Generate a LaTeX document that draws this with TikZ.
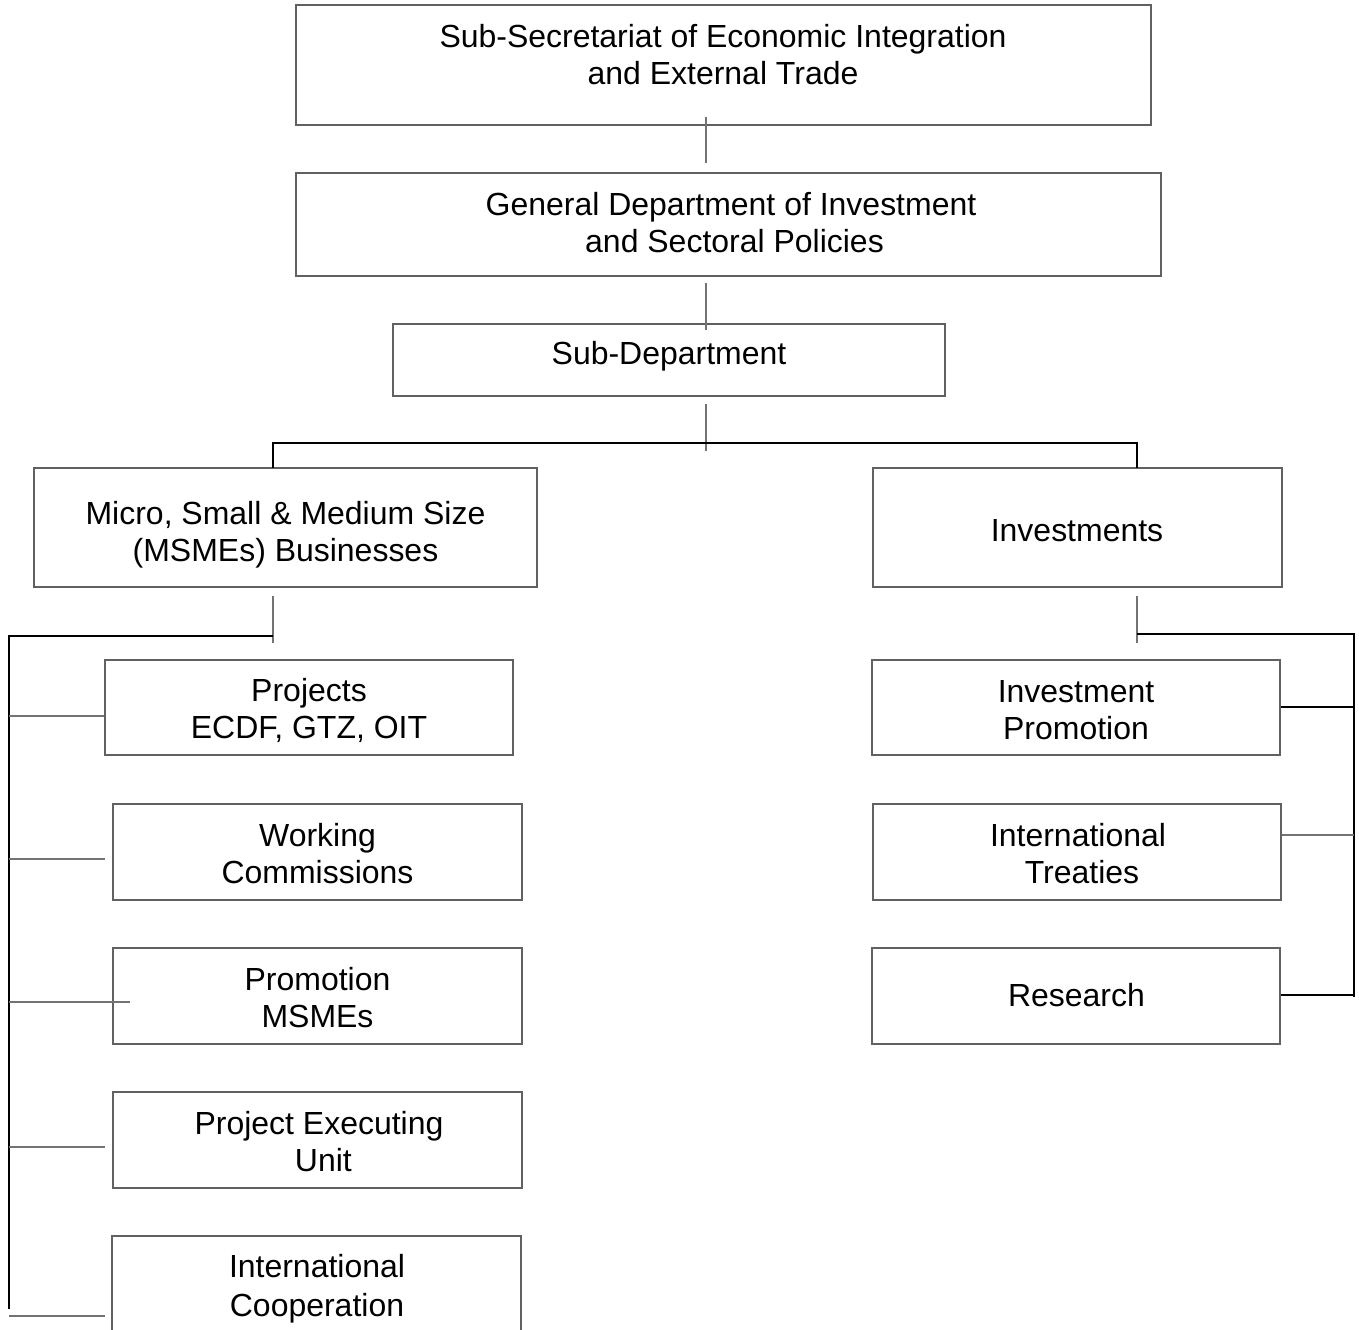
\documentclass[tikz,border=0pt]{standalone}
\usepackage{fontspec}
\setmainfont{Liberation Sans}
\usetikzlibrary{fit}
\definecolor{boxgray}{gray}{0.38}
\definecolor{linegray}{gray}{0.45}
\begin{document}
\begin{tikzpicture}[x=0.02cm,y=-0.02cm,
  box/.style={draw=boxgray, line width=0.6pt, inner sep=0pt},
  txt/.style={align=center, font=\fontsize{18.2}{21}\selectfont, inner sep=0pt},
  thinlink/.style={draw=linegray, line width=0.9pt},
  thicklink/.style={draw=black, line width=1.2pt}]
\useasboundingbox (0,0) rectangle (1359,1329);
\clip (0,0) rectangle (1359,1329);

% --- boxes ---
\node[box, fit={(296,5) (1151,125)}] (sec) {};
\node[box, fit={(296,173) (1161,276)}] (gen) {};
\node[box, fit={(393,324) (945,396)}] (sub) {};
\node[box, fit={(34,468) (537,587)}] (msme) {};
\node[box, fit={(873,468) (1282,587)}] (inv) {};
\node[box, fit={(105,660) (513,755)}] (proj) {};
\node[box, fit={(113,804) (522,900)}] (work) {};
\node[box, fit={(113,948) (522,1044)}] (prom) {};
\node[box, fit={(113,1092) (522,1188)}] (peu) {};
\node[box, fit={(112,1236) (521,1345)}] (coop) {};
\node[box, fit={(872,660) (1280,755)}] (ipro) {};
\node[box, fit={(873,804) (1281,900)}] (treat) {};
\node[box, fit={(872,948) (1280,1044)}] (res) {};

% --- labels ---
\node[txt] (sec-t) at (723,55) {Sub-Secretariat of Economic Integration\\and External Trade};
\node[txt] (gen-t) at (731,223) {General Department of Investment\\\hspace*{4pt}and Sectoral Policies};
\node[txt] (sub-t) at (669,356) {Sub-Department};
\node[txt] (msme-t) at (285.5,535) {Micro, Small \& Medium Size\\(MSMEs) Businesses};
\node[txt] (inv-t) at (1077,531) {Investments};
\node[txt] (proj-t) at (309,710) {Projects\\ECDF, GTZ, OIT};
\node[txt] (work-t) at (317.5,854) {Working\\Commissions};
\node[txt] (prom-t) at (317.5,998) {Promotion\\MSMEs};
\node[txt] (peu-t) at (319,1142) {Project Executing\\\hspace*{5pt}Unit};
\node[txt, font=\fontsize{18.2}{22}\selectfont] (coop-t) at (317,1289) {International\\Cooperation};
\node[txt] (ipro-t) at (1076,710) {Investment\\Promotion};
\node[txt] (treat-t) at (1078,854) {International\\\hspace*{4.5pt}Treaties};
\node[txt] (res-t) at (1076.5,995) {Research};

% --- connector end points ---
\coordinate (a1) at (706,117); \coordinate (a2) at (706,163);
\coordinate (b1) at (706,283); \coordinate (b2) at (706,330);
\coordinate (c1) at (706,404); \coordinate (c2) at (706,451);
\coordinate (busL) at (273,443); \coordinate (busR) at (1137,443);
\coordinate (dropL) at (273,468); \coordinate (dropR) at (1137,468);
\coordinate (l1) at (273,596); \coordinate (l2) at (273,643);
\coordinate (lbus) at (273,636); \coordinate (lcorner) at (9,636);
\coordinate (lend) at (9,1309);
\coordinate (r1) at (1137,596); \coordinate (r2) at (1137,643);
\coordinate (rbus) at (1137,634); \coordinate (rcorner) at (1354,634);
\coordinate (rend) at (1354,997);

% --- vertical chain ---
\draw[thinlink] (a1) -- (a2);
\draw[thinlink] (b1) -- (b2);
\draw[thinlink] (c1) -- (c2);
\draw[thicklink] (dropL) -- (busL) -- (busR) -- (dropR);

% --- left branch ---
\draw[thinlink] (l1) -- (l2);
\draw[thicklink] (lbus) -- (lcorner) -- (lend);
\draw[thinlink] (9,716) -- (proj.west |- 0,716);
\draw[thinlink] (9,859) -- (105,859);
\draw[thinlink] (9,1002) -- (130,1002);
\draw[thinlink] (9,1147) -- (105,1147);
\draw[thinlink] (9,1316) -- (105,1316);

% --- right branch ---
\draw[thinlink] (r1) -- (r2);
\draw[thicklink] (rbus) -- (rcorner) -- (rend);
\draw[thicklink] (ipro.east |- 0,707) -- (1354,707);
\draw[thinlink] (treat.east |- 0,835) -- (1354,835);
\draw[thicklink] (res.east |- 0,995) -- (1354,995);
\end{tikzpicture}
\end{document}
